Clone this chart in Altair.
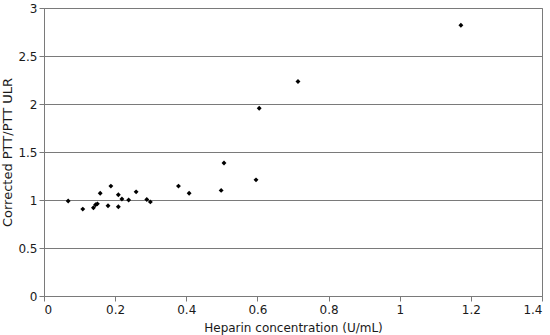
import altair as alt
import pandas as pd

heparin = [0.068, 0.109, 0.139, 0.145, 0.150, 0.158, 0.180, 0.188, 0.209, 0.209,
           0.219, 0.238, 0.259, 0.289, 0.299, 0.378, 0.408, 0.498, 0.506, 0.596,
           0.605, 0.714, 1.172]
ratio = [0.99, 0.905, 0.92, 0.95, 0.96, 1.07, 0.94, 1.145, 1.055, 0.93,
         1.01, 1.0, 1.085, 1.005, 0.98, 1.145, 1.07, 1.10, 1.385, 1.21,
         1.955, 2.235, 2.82]
x_ticks = [0, 0.2, 0.4, 0.6, 0.8, 1, 1.2, 1.4]
y_ticks = [0, 0.5, 1, 1.5, 2, 2.5, 3]

df = pd.DataFrame({"x": heparin, "y": ratio})

font = "DejaVu Sans"
gray = "#7a7a7a"
txt = "#1a1a1a"

chart = alt.Chart(df).mark_point(
    shape="diamond", filled=True, color="black", size=24, opacity=1
).encode(
    x=alt.X("x:Q", scale=alt.Scale(domain=[0, 1.4], nice=False),
            axis=alt.Axis(title="Heparin concentration (U/mL)", values=x_ticks, format="~g",
                          grid=False, domainColor=gray, tickColor=gray, tickSize=5,
                          labelFont=font, labelFontSize=12, labelColor=txt,
                          titleFont=font, titleFontSize=12, titleFontWeight="normal",
                          titleColor=txt, labelPadding=3,
                          titleBaseline="alphabetic", titleY=35)),
    y=alt.Y("y:Q", scale=alt.Scale(domain=[0, 3], nice=False),
            axis=alt.Axis(title="Corrected PTT/PTT ULR", values=y_ticks, format="~g",
                          grid=True, gridColor=gray, gridWidth=1,
                          domainColor=gray, tickColor=gray, tickSize=5,
                          labelFont=font, labelFontSize=12, labelColor=txt,
                          titleFont=font, titleFontSize=13, titleFontWeight="normal",
                          titleColor=txt, labelPadding=2,
                          titleAngle=-90, titleAlign="center", titleBaseline="alphabetic",
                          titleX=-33, titleY=144)),
).properties(
    width=498, height=288,
    autosize=alt.AutoSizeParams(type="none"),
    padding={"left": 44, "top": 8, "right": 8, "bottom": 39},
).configure_view(
    stroke=gray, strokeWidth=1
)

chart.save("out.html", embed_options={"renderer": "svg", "actions": False})
